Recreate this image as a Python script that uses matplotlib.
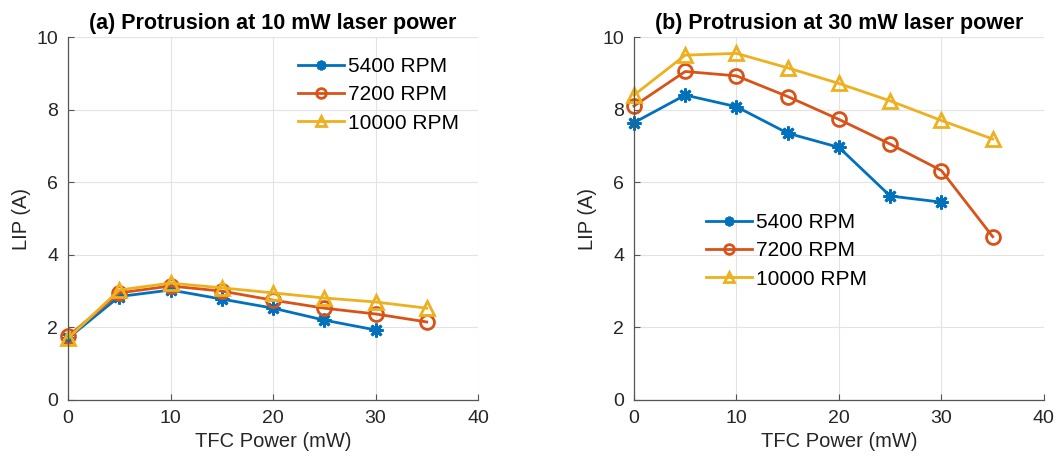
import numpy as np
import matplotlib.pyplot as plt

plt.rcParams['font.family'] = ['Liberation Sans', 'DejaVu Sans']

tfc = [0, 5, 10, 15, 20, 25, 30, 35]
rpm_labels = ['5400 RPM', '7200 RPM', '10000 RPM']

# (a) 10 mW laser power
lip_a_5400 = [1.70, 2.85, 3.03, 2.78, 2.53, 2.20, 1.93]
lip_a_7200 = [1.75, 2.95, 3.14, 3.00, 2.75, 2.53, 2.37, 2.15]
lip_a_10000 = [1.70, 3.03, 3.22, 3.09, 2.95, 2.81, 2.70, 2.53]

# (b) 30 mW laser power
lip_b_5400 = [7.64, 8.40, 8.08, 7.35, 6.96, 5.62, 5.45]
lip_b_7200 = [8.10, 9.05, 8.93, 8.36, 7.73, 7.05, 6.32, 4.50]
lip_b_10000 = [8.40, 9.50, 9.55, 9.15, 8.72, 8.24, 7.70, 7.19]

colors = ['#0072BD', '#D95319', '#EDB120']
markers = [(8, 2, 0), 'o', '^']

fig = plt.figure(figsize=(10.58, 4.65), dpi=100)
ax1 = fig.add_axes([0.0643, 0.1398, 0.3875, 0.7806])
ax2 = fig.add_axes([0.5992, 0.1398, 0.3875, 0.7806])

panels = [
    (ax1, [lip_a_5400, lip_a_7200, lip_a_10000], '(a) Protrusion at 10 mW laser power'),
    (ax2, [lip_b_5400, lip_b_7200, lip_b_10000], '(b) Protrusion at 30 mW laser power'),
]

for ax, series, title in panels:
    for i, (vals, c, m, lab) in enumerate(zip(series, colors, markers, rpm_labels)):
        x = tfc[:len(vals)]
        if i == 0:
            ax.plot(x, vals, color=c, lw=2, marker=m, ms=10, mew=2, label=lab, clip_on=False)
        else:
            ax.plot(x, vals, color=c, lw=2, marker=m, ms=10, mfc='none', mew=2,
                    label=lab, clip_on=False)
    ax.set_xlim(0, 40)
    ax.set_ylim(0, 10)
    ax.set_xticks([0, 10, 20, 30, 40])
    ax.set_yticks([0, 2, 4, 6, 8, 10])
    ax.grid(True, color='#e3e3e3', lw=0.8)
    ax.set_axisbelow(True)
    ax.tick_params(direction='in', labelsize=14, colors='#262626', length=4, pad=7)
    ax.tick_params(axis='both', color='#555555')
    ax.spines['top'].set_visible(False)
    ax.spines['right'].set_visible(False)
    for s in ['left', 'bottom']:
        ax.spines[s].set_color('#555555')
        ax.spines[s].set_linewidth(0.9)
    ax.set_xlabel('TFC Power (mW)', fontsize=14.5, color='#262626')
    ax.set_ylabel('LIP (A)', fontsize=14.5, color='#262626')
    ax.set_title(title, fontsize=15.5, fontweight='bold', pad=6)

ax1.legend(loc='upper right', bbox_to_anchor=(1.0, 0.997), frameon=False, fontsize=15,
           handlelength=2.2, handletextpad=0.2, labelspacing=0.45, markerscale=0.7)
ax2.legend(loc='lower left', bbox_to_anchor=(0.13, 0.255), frameon=False, fontsize=15,
           handlelength=2.2, handletextpad=0.2, labelspacing=0.45, markerscale=0.7)

fig.savefig('out.png', dpi=100)
